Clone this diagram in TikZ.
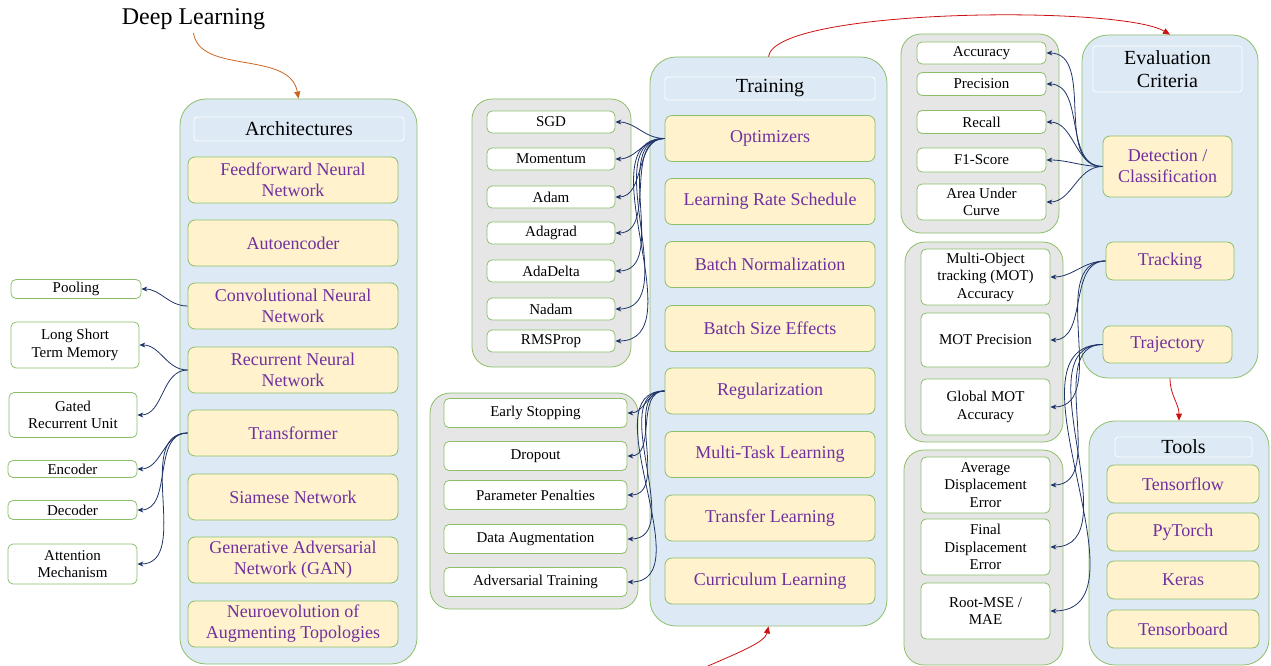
\documentclass[tikz,border=0pt]{standalone}
\usepackage{fontspec}
\setmainfont{Liberation Serif}
\usetikzlibrary{arrows.meta,positioning}
\definecolor{boxgreen}{HTML}{8CBF6A}
\definecolor{panelblue}{HTML}{DDE9F5}
\definecolor{traygrey}{HTML}{E6E6E6}
\definecolor{topicyellow}{HTML}{FFF2CC}
\definecolor{topicpurple}{HTML}{7030A0}
\definecolor{linkblue}{HTML}{1F3468}
\definecolor{rootorange}{HTML}{C8651F}
\definecolor{flowred}{HTML}{CC1111}
\tikzset{
  wh/.style 2 args={minimum width=#1pt,minimum height=#2pt},
  panel/.style={draw=boxgreen,fill=panelblue,rounded corners=26pt,line width=0.8pt},
  tray/.style={draw=boxgreen,fill=traygrey,rounded corners=20pt,line width=0.8pt},
  caption/.style={draw=white,fill=panelblue,rounded corners=3pt,line width=0.8pt,font=\fontsize{20}{23}\selectfont,align=center,inner sep=1pt},
  topic/.style={draw=boxgreen,fill=topicyellow,rounded corners=7pt,line width=0.8pt,text=topicpurple,font=\fontsize{18}{21}\selectfont,align=center,inner sep=1pt},
  leaf/.style={draw=boxgreen,fill=white,rounded corners=5pt,line width=0.8pt,font=\fontsize{15}{17.5}\selectfont,align=center,inner sep=1pt},
  branch/.style={-{Stealth[length=6pt,width=5pt]},linkblue,line width=0.8pt},
  flow/.style={-{Triangle[length=7pt,width=6pt]},line width=0.8pt}
}

\begin{document}
\begin{tikzpicture}[x=1pt,y=-1pt]
\useasboundingbox (0,0) rectangle (1271,666);

\node[font=\fontsize{24}{26}\selectfont] (dl) at (193.5,19) {Deep Learning};

% architectures
\node[panel,wh={237}{565}] (arch) at (298.5,381.5) {};
\node[caption,wh={210}{24}] (archhead) at (299,129) {Architectures};
\node[topic,wh={210}{46}] (ffnn) at (293,180) {Feedforward Neural\\Network};
\node[topic,wh={210}{46}] (ae) at (293,243) {Autoencoder};
\node[topic,wh={210}{46}] (cnn) at (293,306) {Convolutional Neural\\Network};
\node[topic,wh={210}{46}] (rnn) at (293,370) {Recurrent Neural\\Network};
\node[topic,wh={210}{46}] (trans) at (293,433) {Transformer};
\node[topic,wh={210}{46}] (siam) at (293,497) {Siamese Network};
\node[topic,wh={210}{46}] (gan) at (293,560) {Generative Adversarial\\Network (GAN)};
\node[topic,wh={210}{46}] (neat) at (293,624) {Neuroevolution of\\Augmenting Topologies};

\node[leaf,wh={130}{19}] (pool) at (76,289) {Pooling};
\node[leaf,wh={128}{46}] (lstm) at (75,345) {Long Short\\Term Memory};
\node[leaf,wh={128}{45}] (gru) at (73,415) {Gated\\Recurrent Unit};
\node[leaf,wh={129}{17}] (enc) at (72.5,469) {Encoder};
\node[leaf,wh={129}{19}] (dec) at (72.5,510) {Decoder};
\node[leaf,wh={129}{40}] (att) at (72.5,564) {Attention\\Mechanism};

% training
\node[panel,wh={237}{569}] (train) at (768.5,341.5) {};
\node[caption,wh={210}{23}] (trainhead) at (770,88.5) {Training};
\node[topic,wh={210}{46}] (opt) at (770,138.5) {Optimizers};
\node[topic,wh={210}{46}] (lrs) at (770,201.5) {Learning Rate Schedule};
\node[topic,wh={210}{46}] (bn) at (770,264.5) {Batch Normalization};
\node[topic,wh={210}{46}] (bse) at (770,328.5) {Batch Size Effects};
\node[topic,wh={210}{46}] (reg) at (770,391) {Regularization};
\node[topic,wh={210}{46}] (mtl) at (770,454.5) {Multi-Task Learning};
\node[topic,wh={210}{46}] (tl) at (770,518) {Transfer Learning};
\node[topic,wh={210}{46}] (cl) at (770,581) {Curriculum Learning};

\node[tray,wh={159}{268}] (opttray) at (551.5,233) {};
\node[leaf,wh={128}{22}] (sgd) at (551,122) {SGD};
\node[leaf,wh={128}{22}] (mom) at (551,159) {Momentum};
\node[leaf,wh={128}{22}] (adam) at (551,197) {Adam};
\node[leaf,wh={128}{22}] (adagrad) at (551,233) {Adagrad};
\node[leaf,wh={128}{22}] (adadelta) at (551,271) {AdaDelta};
\node[leaf,wh={128}{22}] (nadam) at (551,309) {Nadam};
\node[leaf,wh={128}{22}] (rms) at (551,341) {RMSProp};

\node[tray,wh={208}{216}] (regtray) at (534,501) {};
\node[leaf,wh={183}{29}] (es) at (535.5,413) {Early Stopping};
\node[leaf,wh={183}{29}] (drop) at (535.5,456) {Dropout};
\node[leaf,wh={183}{29}] (pp) at (535.5,495) {Parameter Penalties};
\node[leaf,wh={183}{29}] (da) at (535.5,539) {Data Augmentation};
\node[leaf,wh={183}{29}] (at) at (535.5,582) {Adversarial Training};

% evaluation
\node[panel,wh={176}{343}] (eval) at (1170,206.5) {};
\node[caption,wh={149}{46}] (evalhead) at (1167.5,69) {Evaluation\\Criteria};
\node[topic,wh={129}{61}] (det) at (1167.5,166.5) {Detection /\\Classification};
\node[topic,wh={128}{38}] (trk) at (1170,261) {Tracking};
\node[topic,wh={129}{37}] (traj) at (1167.5,344.5) {Trajectory};

\node[tray,wh={158}{199}] (dettray) at (980,133.5) {};
\node[leaf,wh={129}{22}] (acc) at (981.5,53) {Accuracy};
\node[leaf,wh={129}{23}] (prec) at (981.5,84) {Precision};
\node[leaf,wh={129}{23}] (rec) at (981.5,122) {Recall};
\node[leaf,wh={129}{24}] (f1) at (981.5,160) {F1-Score};
\node[leaf,wh={129}{36}] (auc) at (981.5,202) {Area Under\\Curve};

\node[tray,wh={158}{200}] (trktray) at (984,342) {};
\node[leaf,wh={129}{56}] (mota) at (985.5,277) {Multi-Object\\tracking (MOT)\\Accuracy};
\node[leaf,wh={129}{54}] (motp) at (985.5,340) {MOT Precision};
\node[leaf,wh={129}{56}] (gmota) at (985.5,407) {Global MOT\\Accuracy};

\node[tray,wh={159}{215}] (trajtray) at (983.5,557.5) {};
\node[leaf,wh={129}{56}] (ade) at (985.5,485) {Average\\Displacement\\Error};
\node[leaf,wh={129}{56}] (fde) at (985.5,547) {Final\\Displacement\\Error};
\node[leaf,wh={129}{56}] (rmse) at (985.5,611) {Root-MSE /\\MAE};

% tools
\node[panel,wh={180}{244}] (tools) at (1179,543) {};
\node[caption,wh={137}{20}] (toolshead) at (1183.5,447) {Tools};
\node[topic,wh={152}{38}] (tf) at (1183,484) {Tensorflow};
\node[topic,wh={152}{38}] (pt) at (1183,532) {PyTorch};
\node[topic,wh={152}{38}] (keras) at (1183,580) {Keras};
\node[topic,wh={152}{38}] (tb) at (1183,629) {Tensorboard};

% main flow
\coordinate (start) at (708,666);
\draw[flow,rootorange] (dl.south) .. controls (200,75) and (290,50) .. (arch.north);
\draw[flow,flowred] (start) .. controls (740,652) and (765,642) .. (train.south);
\draw[flow,flowred] (train.north) .. controls (775,8) and (1120,5) .. (eval.north);
\draw[flow,flowred] (eval.south) to[out=-90,in=90] (tools.north);

% branches
\draw[branch] (cnn.west) to[out=180,in=0] (pool.east);
\foreach \t in {lstm,gru}
  \draw[branch] (rnn.west) to[out=180,in=0] (\t.east);
\foreach \t in {enc,dec,att}
  \draw[branch] (trans.west) to[out=180,in=0] (\t.east);
\foreach \t in {sgd,mom,adam,adagrad,adadelta,nadam,rms}
  \draw[branch] (opt.west) to[out=180,in=0] (\t.east);
\foreach \t in {es,drop,pp,da,at}
  \draw[branch] (reg.west) to[out=180,in=0] (\t.east);
\foreach \t in {acc,prec,rec,f1,auc}
  \draw[branch] (det.west) to[out=180,in=0] (\t.east);
\foreach \t in {mota,motp,gmota}
  \draw[branch] (trk.west) to[out=180,in=0] (\t.east);
\foreach \t in {ade,fde,rmse}
  \draw[branch] (traj.west) to[out=180,in=0] (\t.east);
\end{tikzpicture}
\end{document}
